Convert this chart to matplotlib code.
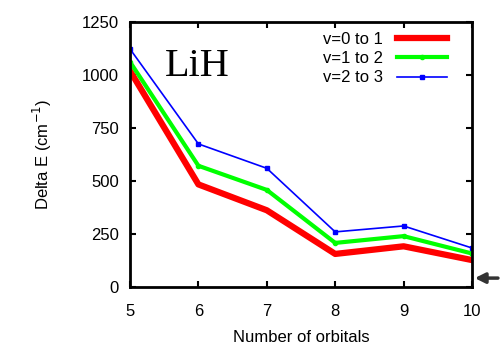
import matplotlib
matplotlib.use("Agg")
import matplotlib.pyplot as plt

plt.rcParams['font.family'] = ['Liberation Sans', 'DejaVu Sans']

orbitals = [5, 6, 7, 8, 9, 10]
v01 = [1020, 484, 362, 156, 192, 127]
v12 = [1062, 572, 458, 208, 240, 158]
v23 = [1123, 675, 560, 260, 288, 184]
arrow_value = 42

fig = plt.figure(figsize=(5, 3.5), dpi=100)
ax = fig.add_axes([0.26, 0.18, 0.684, 0.757])

ax.plot(orbitals, v01, color='#ff0000', lw=4.5, label='v=0 to 1')
ax.plot(orbitals, v12, color='#00ff00', lw=3, marker='o', ms=3, label='v=1 to 2')
ax.plot(orbitals, v23, color='#0000ff', lw=1.2, marker='s', ms=2.5, label='v=2 to 3')

ax.set_xlim(5, 10)
ax.set_ylim(0, 1250)
ax.set_xticks(orbitals)
ax.set_yticks([0, 250, 500, 750, 1000, 1250])
ax.tick_params(direction='in', top=True, right=True, length=4, width=1.5, labelsize=12)
ax.tick_params(axis='x', pad=12)
ax.tick_params(axis='y', pad=8)
for s in ax.spines.values():
    s.set_linewidth(2)

ax.set_xlabel('Number of orbitals', fontsize=12, labelpad=8)
ax.set_ylabel('Delta E (cm$^{-1}$)', fontsize=12, labelpad=20)
ax.text(0.102, 0.796, 'LiH', transform=ax.transAxes, fontsize=29,
        family='Liberation Serif', va='baseline')

ax.legend(loc='upper right', frameon=False, fontsize=12, handlelength=3.0,
          markerfirst=False, borderaxespad=0.2, labelspacing=0.25,
          handletextpad=0.8, bbox_to_anchor=(0.955, 1.0))

ax.annotate('', xy=(10.0, arrow_value), xytext=(10.42, arrow_value),
            arrowprops=dict(arrowstyle='-|>', color='#333333', lw=2.5,
                            mutation_scale=15),
            annotation_clip=False)

fig.savefig('out.png', dpi=100)
